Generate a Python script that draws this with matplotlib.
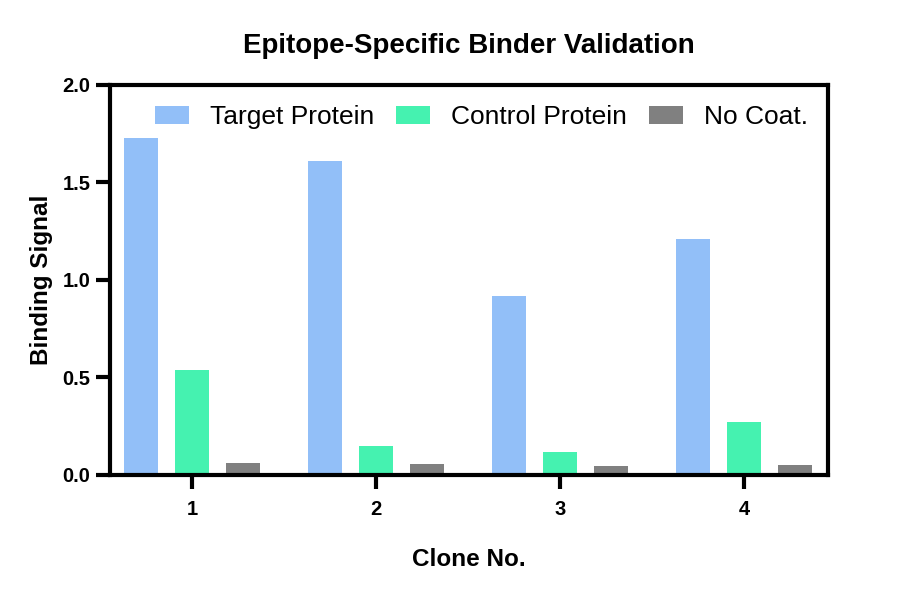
import numpy as np
import matplotlib.pyplot as plt

plt.rcParams['font.family'] = ['Liberation Sans', 'DejaVu Sans']

# Data
clones = ['1', '2', '3', '4']
target = [1.73, 1.61, 0.92, 1.21]
control = [0.54, 0.15, 0.12, 0.27]
no_coat = [0.06, 0.055, 0.045, 0.05]
series_names = ['Target Protein', 'Control Protein', 'No Coat.']
colors = ['#92BFF8', '#45F2B0', '#808080']

fig = plt.figure(figsize=(9, 5.91), dpi=100)
ax = fig.add_axes([0.1222, 0.1963, 0.7978, 0.6599])

x = np.arange(len(clones))
width = 0.185
step = 0.277
for i, (vals, name, c) in enumerate(zip([target, control, no_coat], series_names, colors)):
    ax.bar(x + (i - 1) * step, vals, width=width, color=c, label=name)

ax.set_xlim(-0.446, 3.457)
ax.set_ylim(0, 2.0)
ax.set_yticks([0.0, 0.5, 1.0, 1.5, 2.0])
ax.set_yticklabels(['0.0', '0.5', '1.0', '1.5', '2.0'])
ax.set_xticks(x)
ax.set_xticklabels(clones)

for s in ax.spines.values():
    s.set_linewidth(3)
ax.tick_params(axis='both', width=3, length=10, labelsize=14.5)
ax.tick_params(axis='x', pad=8)
ax.tick_params(axis='y', pad=4)
for lab in ax.get_xticklabels() + ax.get_yticklabels():
    lab.set_fontweight('bold')

ax.set_title('Epitope-Specific Binder Validation', fontsize=20, fontweight='bold', pad=23)
ax.set_xlabel('Clone No.', fontsize=17.5, fontweight='bold', labelpad=21)
ax.set_ylabel('Binding Signal', fontsize=17.5, fontweight='bold', labelpad=7)

ax.legend(loc='center', ncol=3, frameon=False, fontsize=19,
          handlelength=1.29, handleheight=0.65, handletextpad=0.8,
          columnspacing=0.83, bbox_to_anchor=(0.517, 0.918))

plt.savefig('out.png', dpi=100)
